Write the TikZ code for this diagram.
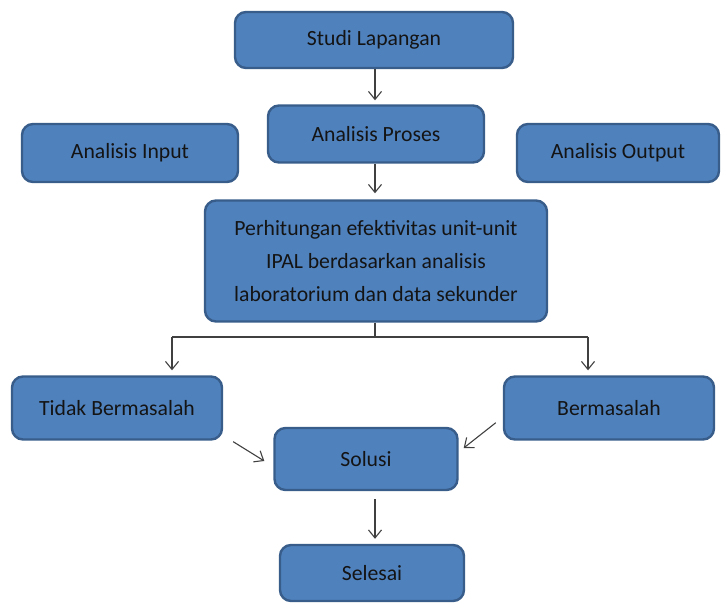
\documentclass[tikz,border=0pt]{standalone}
\usepackage{fontspec}
\setmainfont{Carlito}
\usetikzlibrary{arrows.meta}
\usetikzlibrary{calc}
\usetikzlibrary{positioning}

\definecolor{boxfill}{HTML}{4F81BD}
\definecolor{boxline}{HTML}{385D8A}
\definecolor{arrowgray}{HTML}{404040}

\begin{document}
\begin{tikzpicture} [x = 1pt, y = 1pt,
    box/.style = {draw = boxline, fill = boxfill, line width = 2.4pt,
        rounded corners = 11pt, align = center, text = black!92,
        font = \fontsize{21.7}{33}\selectfont, inner sep = 0pt},
    link/.style = {draw = arrowgray, line width = 1.1pt},
    arrow/.style = {link,
        -{Straight Barb[length = 8pt, width = 13pt, line width = 1.1pt]}}]

\useasboundingbox (0,0) rectangle (721,-605);

% column of the main arrows
\coordinate (axis) at (375,0);

% boxes
\node [box, minimum width = 278, minimum height = 56] (studi) at (374,-40) {Studi Lapangan};
\node [box, minimum width = 216, minimum height = 57] (proses) at (376,-134) {Analisis Proses};
\node [box, minimum width = 216, minimum height = 58] (input) at (130,-153) {Analisis Input};
\node [box, minimum width = 202, minimum height = 58] (output) at (618,-153) {Analisis Output};
\node [box, minimum width = 342, minimum height = 121] (hitung) at (376,-261)
    {Perhitungan efektivitas unit-unit\\IPAL berdasarkan analisis\\laboratorium dan data sekunder};
\node [box, minimum width = 210, minimum height = 63] (tidak) at (117,-408) {Tidak Bermasalah};
\node [box, minimum width = 210, minimum height = 63] (masalah) at (609,-408) {Bermasalah};
\node [box, minimum width = 183, minimum height = 62] (solusi) at (366,-459) {Solusi};
\node [box, minimum width = 184, minimum height = 56] (selesai) at (372,-573) {Selesai};

% straight arrows
\draw [arrow, shorten > = 4pt] (studi.south -| axis) -- (proses.north -| axis);
\draw [arrow, shorten > = 6pt] (proses.south -| axis) -- (hitung.north -| axis);
\draw [arrow, shorten < = 8pt, shorten > = 5pt] (solusi.south -| axis) -- (selesai.north -| axis);

% branch
\coordinate (split) at ($(hitung.south -| axis) + (0,-15)$);
\coordinate (lbr) at (172,-337);
\coordinate (rbr) at (588,-337);
\draw [link] (hitung.south -| axis) -- (split);
\draw [link] (lbr) -- (rbr);
\draw [arrow, shorten > = 5pt] (lbr) -- (lbr |- tidak.north);
\draw [arrow, shorten > = 5pt] (rbr) -- (rbr |- masalah.north);

% into solusi
\draw [arrow] ([xshift = 10pt, yshift = -1pt]tidak.south east) -- ([xshift = -9pt, yshift = -2pt]solusi.west);
\draw [arrow] ([xshift = -7pt, yshift = 18pt]masalah.south west) -- ([xshift = 5pt, yshift = 11pt]solusi.east);

\end{tikzpicture}
\end{document}
